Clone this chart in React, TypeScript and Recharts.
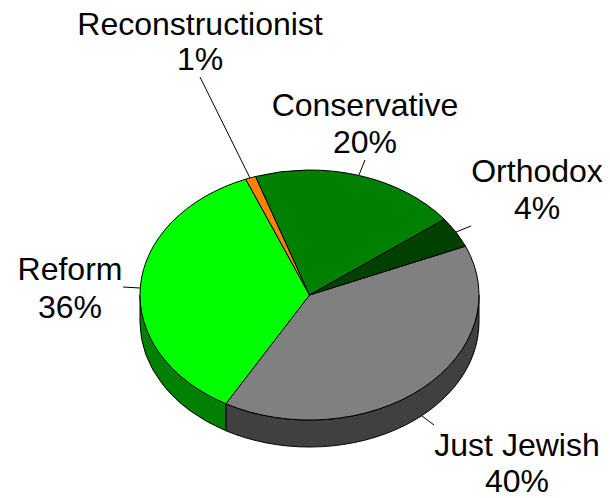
import React from 'react';
import { PieChart, Pie } from 'recharts';

const names = ['Just Jewish', 'Reform', 'Reconstructionist', 'Conservative', 'Orthodox'];
const shares = [40, 36, 1, 20, 4];
const topColors = ['#808080', '#00ff00', '#ff8000', '#008000', '#004000'];
const sideColors = ['#404040', '#008000', '#804000', '#004000', '#002000'];

const data = names.map((name, i) => ({ name, value: shares[i], fill: topColors[i] }));
const sideData = names.map((name, i) => ({ name, value: shares[i], fill: sideColors[i] }));

const CX = 309.5;
const CY = 295;
const RX = 169.5;
const SQUASH = 0.7375; // pie is tilted, so the circle is flattened
const DEPTH = 27;
const FONT = 'Liberation Sans, Arial, sans-serif';
const FONT_SIZE = 32;

// label text centre, two baselines, leader line
const labelLayout: Record<string, { x: number; y1: number; y2: number; line: number[] }> = {
  'Just Jewish': { x: 517, y1: 456, y2: 492, line: [422, 416, 434, 425] },
  Reform: { x: 70, y1: 280, y2: 318, line: [123, 287, 140, 288] },
  Reconstructionist: { x: 200, y1: 35, y2: 70, line: [200, 77, 250, 178] },
  Conservative: { x: 365, y1: 116, y2: 153, line: [365, 160, 359, 175] },
  Orthodox: { x: 537, y1: 182, y2: 219, line: [471, 226, 456, 232] },
};

const pt = (cx: number, cy: number, r: number, deg: number) => {
  const a = (deg * Math.PI) / 180;
  return [cx + r * Math.cos(a), cy - r * SQUASH * Math.sin(a)];
};

const TopSlice = (props: any) => {
  const { cx, cy, outerRadius: r, startAngle, endAngle, fill } = props;
  const [x1, y1] = pt(cx, cy, r, startAngle);
  const [x2, y2] = pt(cx, cy, r, endAngle);
  const large = Math.abs(startAngle - endAngle) > 180 ? 1 : 0;
  const d = `M${cx},${cy} L${x1},${y1} A${r},${r * SQUASH} 0 ${large} 1 ${x2},${y2} Z`;
  return <path d={d} fill={fill} stroke="#000" strokeWidth={1} strokeLinejoin="round" />;
};

// wall below the rim, only the part facing the viewer
const SideSlice = (props: any) => {
  const { cx, cy, outerRadius: r, startAngle, endAngle, fill } = props;
  const hi = Math.min(startAngle, 0);
  const lo = Math.max(endAngle, -180);
  if (hi <= lo) return null;
  const [x1, y1] = pt(cx, cy, r, hi);
  const [x2, y2] = pt(cx, cy, r, lo);
  const ry = r * SQUASH;
  const d = `M${x1},${y1} A${r},${ry} 0 0 1 ${x2},${y2} L${x2},${y2 + DEPTH} A${r},${ry} 0 0 0 ${x1},${y1 + DEPTH} Z`;
  return <path d={d} fill={fill} stroke="#000" strokeWidth={1} strokeLinejoin="round" />;
};

const renderLabel = (props: any) => {
  const { name, value } = props;
  const l = labelLayout[name];
  return (
    <g key={name}>
      <line x1={l.line[0]} y1={l.line[1]} x2={l.line[2]} y2={l.line[3]} stroke="#000" strokeWidth={1} />
      <text x={l.x} y={l.y1} textAnchor="middle" fontFamily={FONT} fontSize={FONT_SIZE} fill="#000">
        {name}
      </text>
      <text x={l.x} y={l.y2} textAnchor="middle" fontFamily={FONT} fontSize={FONT_SIZE} fill="#000">
        {`${value}%`}
      </text>
    </g>
  );
};

const START = 23;

export default function App() {
  return (
    <div style={{ position: 'absolute', left: 0, top: 0, width: 610, height: 498, background: '#fff' }}>
      <PieChart width={610} height={498} margin={{ top: 0, right: 0, bottom: 0, left: 0 }}>
        <Pie
          data={sideData}
          dataKey="value"
          nameKey="name"
          cx={CX}
          cy={CY}
          outerRadius={RX}
          startAngle={START}
          endAngle={START - 360}
          shape={SideSlice}
          isAnimationActive={false}
          label={false}
          labelLine={false}
        />
        <Pie
          data={data}
          dataKey="value"
          nameKey="name"
          cx={CX}
          cy={CY}
          outerRadius={RX}
          startAngle={START}
          endAngle={START - 360}
          shape={TopSlice}
          isAnimationActive={false}
          label={renderLabel}
          labelLine={false}
        />
      </PieChart>
    </div>
  );
}
